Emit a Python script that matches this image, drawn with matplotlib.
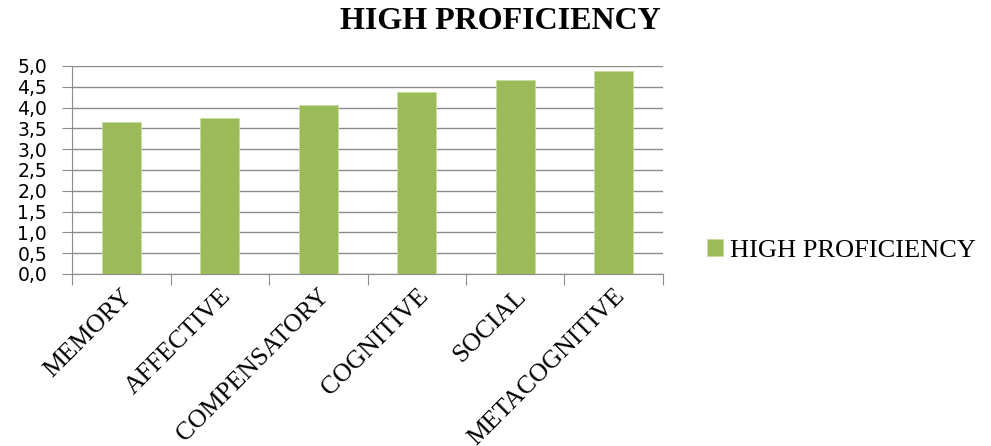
import matplotlib
matplotlib.use('Agg')
import matplotlib.pyplot as plt
from matplotlib.ticker import FuncFormatter, FixedLocator
import numpy as np

# Data.
categories = ['MEMORY', 'AFFECTIVE', 'COMPENSATORY', 'COGNITIVE', 'SOCIAL', 'METACOGNITIVE']
values = [3.66, 3.74, 4.06, 4.38, 4.66, 4.87]
y_ticks = [0.0, 0.5, 1.0, 1.5, 2.0, 2.5, 3.0, 3.5, 4.0, 4.5, 5.0]
series_name = 'HIGH PROFICIENCY'

bar_color = '#9bbb59'
grid_color = '#8c8c8c'
serif = ['Liberation Serif', 'DejaVu Serif']

fig = plt.figure(figsize=(9.91, 4.46), dpi=100)
ax = fig.add_axes([0.0727, 0.3857, 0.5963, 0.4665])

x = np.arange(len(categories))
ax.bar(x, values, width=0.4, color=bar_color, edgecolor='#c8dca0', linewidth=0.6,
       label=series_name, zorder=3)

ax.set_xlim(-0.5, len(categories) - 0.5)
ax.set_ylim(0, 5.0)
ax.set_yticks(y_ticks)
ax.yaxis.set_major_formatter(FuncFormatter(lambda v, p: f'{v:.1f}'.replace('.', ',')))
ax.grid(axis='y', color=grid_color, linewidth=1.0, zorder=0)

# Category ticks sit at the boundaries between bars.
ax.xaxis.set_major_locator(FixedLocator(np.arange(len(categories) + 1) - 0.5))
ax.set_xticklabels([])
ax.set_xticks(x, minor=True)
ax.set_xticklabels(categories, minor=True, rotation=45, ha='right', va='top',
                   rotation_mode='anchor', family=serif, fontsize=18.5)
ax.tick_params(axis='x', which='major', length=8, color=grid_color, direction='out')
ax.tick_params(axis='x', which='minor', length=0, pad=8)
ax.tick_params(axis='y', length=7, color=grid_color, labelsize=13.5, pad=11)

for side in ['top', 'right']:
    ax.spines[side].set_visible(False)
ax.spines['left'].set_color(grid_color)
ax.spines['bottom'].set_color(grid_color)

fig.text(0.505, 0.951, 'HIGH PROFICIENCY', ha='center', va='center',
         family=serif, fontsize=23, fontweight='bold')

fig.legend(loc='center left', bbox_to_anchor=(0.703, 0.438), frameon=False,
           prop={'family': serif, 'size': 19}, handlelength=0.6, handleheight=0.6,
           handletextpad=0.25, borderaxespad=0)

fig.savefig('out.png', dpi=100)
